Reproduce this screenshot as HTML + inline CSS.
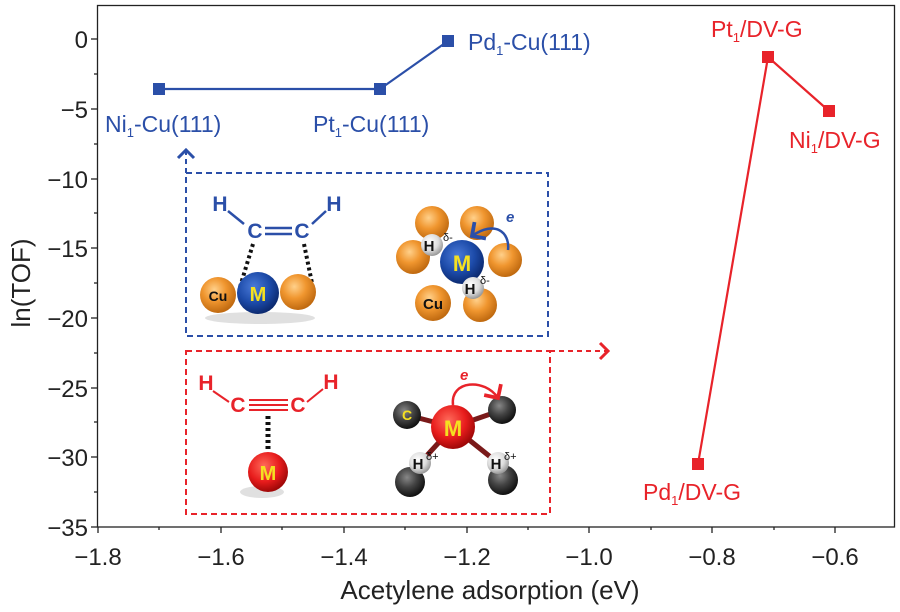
<!DOCTYPE html>
<html><head><meta charset="utf-8"><style>
html,body{margin:0;padding:0;background:#fff;}
svg{display:block;font-family:"Liberation Sans",sans-serif;}
</style></head><body>
<svg width="900" height="612" viewBox="0 0 900 612" xmlns="http://www.w3.org/2000/svg">
<defs>
<radialGradient id="gO" cx="40%" cy="35%" r="65%"><stop offset="0" stop-color="#ffd08a"/><stop offset="0.5" stop-color="#f0962f"/><stop offset="1" stop-color="#c06a10"/></radialGradient>
<radialGradient id="gB" cx="40%" cy="35%" r="65%"><stop offset="0" stop-color="#4a7ad8"/><stop offset="0.6" stop-color="#1c4aa8"/><stop offset="1" stop-color="#0c2a70"/></radialGradient>
<radialGradient id="gR" cx="40%" cy="35%" r="65%"><stop offset="0" stop-color="#ff6a5a"/><stop offset="0.6" stop-color="#e81c1c"/><stop offset="1" stop-color="#a00808"/></radialGradient>
<radialGradient id="gW" cx="40%" cy="35%" r="65%"><stop offset="0" stop-color="#ffffff"/><stop offset="0.6" stop-color="#ddd"/><stop offset="1" stop-color="#999"/></radialGradient>
<radialGradient id="gK" cx="40%" cy="35%" r="65%"><stop offset="0" stop-color="#888"/><stop offset="0.5" stop-color="#444"/><stop offset="1" stop-color="#111"/></radialGradient>
<marker id="aB" markerWidth="10" markerHeight="10" refX="5" refY="5" orient="auto"><path d="M1,1 L5,5 L1,9" fill="none" stroke="#2b4fa8" stroke-width="1.5"/></marker>
<marker id="aR" markerWidth="10" markerHeight="10" refX="5" refY="5" orient="auto"><path d="M1,1 L5,5 L1,9" fill="none" stroke="#e8232a" stroke-width="1.5"/></marker>
</defs>
<rect x="97.5" y="5.5" width="797" height="521.5" fill="none" stroke="#222" stroke-width="1.3"/>
<g stroke="#222" stroke-width="1.3">
<line x1="91" y1="39" x2="97" y2="39"/><line x1="91" y1="109" x2="97" y2="109"/><line x1="91" y1="179" x2="97" y2="179"/><line x1="91" y1="248" x2="97" y2="248"/><line x1="91" y1="318" x2="97" y2="318"/><line x1="91" y1="388" x2="97" y2="388"/><line x1="91" y1="457" x2="97" y2="457"/><line x1="91" y1="527" x2="97" y2="527"/>
<line x1="94" y1="74" x2="97" y2="74"/><line x1="94" y1="144" x2="97" y2="144"/><line x1="94" y1="213" x2="97" y2="213"/><line x1="94" y1="283" x2="97" y2="283"/><line x1="94" y1="353" x2="97" y2="353"/><line x1="94" y1="422" x2="97" y2="422"/><line x1="94" y1="492" x2="97" y2="492"/>
<line x1="98" y1="527" x2="98" y2="533"/><line x1="221" y1="527" x2="221" y2="533"/><line x1="344" y1="527" x2="344" y2="533"/><line x1="467" y1="527" x2="467" y2="533"/><line x1="589" y1="527" x2="589" y2="533"/><line x1="712" y1="527" x2="712" y2="533"/><line x1="835" y1="527" x2="835" y2="533"/>
<line x1="159" y1="527" x2="159" y2="530"/><line x1="282" y1="527" x2="282" y2="530"/><line x1="405" y1="527" x2="405" y2="530"/><line x1="528" y1="527" x2="528" y2="530"/><line x1="651" y1="527" x2="651" y2="530"/><line x1="774" y1="527" x2="774" y2="530"/>
</g>
<g font-size="24" fill="#222" text-anchor="end">
<text x="88" y="48">0</text><text x="88" y="118">−5</text><text x="88" y="188">−10</text><text x="88" y="257">−15</text><text x="88" y="327">−20</text><text x="88" y="397">−25</text><text x="88" y="466">−30</text><text x="88" y="536">−35</text>
</g>
<g font-size="24" fill="#222" text-anchor="middle">
<text x="98" y="565">−1.8</text><text x="221" y="565">−1.6</text><text x="344" y="565">−1.4</text><text x="467" y="565">−1.2</text><text x="589" y="565">−1.0</text><text x="712" y="565">−0.8</text><text x="835" y="565">−0.6</text>
</g>
<text x="490" y="599" font-size="26" fill="#222" text-anchor="middle">Acetylene adsorption (eV)</text>
<text transform="translate(30,283) rotate(-90)" font-size="26" fill="#222" text-anchor="middle">ln(TOF)</text>

<polyline points="159,89 380,89 448,41" fill="none" stroke="#2b4fa8" stroke-width="2.2"/>
<rect x="153" y="83" width="12" height="12" fill="#2b4fa8"/><rect x="374" y="83" width="12" height="12" fill="#2b4fa8"/><rect x="442" y="35" width="12" height="12" fill="#2b4fa8"/>
<g fill="#2b4fa8" font-size="23">
<text x="105" y="132">Ni<tspan font-size="13" dy="5">1</tspan><tspan dy="-5">-Cu(111)</tspan></text>
<text x="313" y="132">Pt<tspan font-size="13" dy="5">1</tspan><tspan dy="-5">-Cu(111)</tspan></text>
<text x="468" y="50">Pd<tspan font-size="13" dy="5">1</tspan><tspan dy="-5">-Cu(111)</tspan></text>
</g>
<polyline points="698,464 768,57 829,111" fill="none" stroke="#e8232a" stroke-width="2.2"/>
<rect x="692" y="458" width="12" height="12" fill="#e8232a"/><rect x="762" y="51" width="12" height="12" fill="#e8232a"/><rect x="823" y="105" width="12" height="12" fill="#e8232a"/>
<g fill="#e8232a" font-size="23">
<text x="711" y="37">Pt<tspan font-size="13" dy="5">1</tspan><tspan dy="-5">/DV-G</tspan></text>
<text x="789" y="148">Ni<tspan font-size="13" dy="5">1</tspan><tspan dy="-5">/DV-G</tspan></text>
<text x="643" y="500">Pd<tspan font-size="13" dy="5">1</tspan><tspan dy="-5">/DV-G</tspan></text>
</g>

<rect x="186" y="173" width="362" height="163" fill="none" stroke="#2b4fa8" stroke-width="2" stroke-dasharray="6,4"/>
<line x1="186" y1="173" x2="186" y2="150" stroke="#2b4fa8" stroke-width="2" stroke-dasharray="5,4" marker-end="url(#aB)"/>
<rect x="186" y="351" width="364" height="163" fill="none" stroke="#e8232a" stroke-width="2" stroke-dasharray="6,4"/>
<line x1="550" y1="351" x2="608" y2="351" stroke="#e8232a" stroke-width="2" stroke-dasharray="5,4" marker-end="url(#aR)"/>

<g fill="#2b4fa8" font-size="21" font-weight="bold" text-anchor="middle">
<text x="220" y="211">H</text><text x="255" y="238">C</text><text x="302" y="238">C</text><text x="334" y="211">H</text>
</g>
<g stroke="#2b4fa8" stroke-width="2.5"><line x1="228" y1="211" x2="244" y2="224"/><line x1="326" y1="211" x2="312" y2="224"/><line x1="265" y1="228" x2="292" y2="228"/><line x1="265" y1="234" x2="292" y2="234"/></g>
<g stroke="#111" stroke-width="4" stroke-dasharray="3,3"><line x1="253" y1="244" x2="240" y2="287"/><line x1="304" y1="244" x2="313" y2="288"/></g>
<ellipse cx="260" cy="318" rx="55" ry="6" fill="#ccc" opacity="0.6"/>
<circle cx="218" cy="295" r="18" fill="url(#gO)"/><circle cx="298" cy="292" r="18" fill="url(#gO)"/><circle cx="258" cy="293" r="21" fill="url(#gB)"/>
<text x="218" y="301" font-size="14" font-weight="bold" text-anchor="middle" fill="#111">Cu</text>
<text x="258" y="301" font-size="20" font-weight="bold" text-anchor="middle" fill="#f5e020">M</text>
<g>
<circle cx="432" cy="223" r="17" fill="url(#gO)"/><circle cx="477" cy="223" r="17" fill="url(#gO)"/><circle cx="413" cy="257" r="17" fill="url(#gO)"/><circle cx="505" cy="260" r="17" fill="url(#gO)"/><circle cx="433" cy="303" r="18" fill="url(#gO)"/><circle cx="480" cy="305" r="17" fill="url(#gO)"/>
<circle cx="462" cy="262" r="22" fill="url(#gB)"/>
<circle cx="432" cy="245" r="11" fill="url(#gW)"/><circle cx="473" cy="288" r="11" fill="url(#gW)"/>
<text x="462" y="271" font-size="22" font-weight="bold" text-anchor="middle" fill="#f5e020">M</text>
<text x="433" y="309" font-size="15" font-weight="bold" text-anchor="middle" fill="#111">Cu</text>
<text x="429" y="251" font-size="15" font-weight="bold" text-anchor="middle" fill="#111">H</text><text x="443" y="241" font-size="11" fill="#111">δ-</text>
<text x="470" y="294" font-size="15" font-weight="bold" text-anchor="middle" fill="#111">H</text><text x="480" y="284" font-size="11" fill="#111">δ-</text>
<path d="M508,250 C510,232 495,220 472,236" fill="none" stroke="#2b4fa8" stroke-width="2.5" marker-end="url(#aB)"/>
<text x="506" y="222" font-size="15" font-style="italic" font-weight="bold" fill="#2b4fa8">e</text>
</g>

<g fill="#e8232a" font-size="21" font-weight="bold" text-anchor="middle">
<text x="206" y="390">H</text><text x="238" y="412">C</text><text x="298" y="412">C</text><text x="331" y="389">H</text>
</g>
<g stroke="#e8232a" stroke-width="2"><line x1="213" y1="391" x2="229" y2="402"/><line x1="323" y1="389" x2="307" y2="402"/><line x1="249" y1="400" x2="288" y2="400"/><line x1="249" y1="405" x2="288" y2="405"/><line x1="249" y1="410" x2="288" y2="410"/></g>
<line x1="268" y1="416" x2="268" y2="450" stroke="#111" stroke-width="5" stroke-dasharray="3,3"/>
<ellipse cx="262" cy="492" rx="22" ry="6" fill="#ccc" opacity="0.6"/>
<circle cx="268" cy="472" r="20" fill="url(#gR)"/>
<text x="268" y="480" font-size="20" font-weight="bold" text-anchor="middle" fill="#f5e020">M</text>
<g>
<g stroke="#7a1a1a" stroke-width="5"><line x1="453" y1="427" x2="407" y2="415"/><line x1="453" y1="427" x2="502" y2="410"/><line x1="453" y1="427" x2="420" y2="463"/><line x1="453" y1="427" x2="498" y2="463"/></g>
<circle cx="410" cy="482" r="15" fill="url(#gK)"/><circle cx="503" cy="480" r="15" fill="url(#gK)"/>
<circle cx="407" cy="415" r="14" fill="url(#gK)"/><circle cx="502" cy="410" r="14" fill="url(#gK)"/>
<circle cx="420" cy="463" r="11" fill="url(#gW)"/><circle cx="498" cy="463" r="11" fill="url(#gW)"/>
<circle cx="453" cy="427" r="22" fill="url(#gR)"/>
<text x="453" y="436" font-size="22" font-weight="bold" text-anchor="middle" fill="#f5e020">M</text>
<text x="407" y="420" font-size="14" font-weight="bold" text-anchor="middle" fill="#f5e020">C</text>
<text x="418" y="469" font-size="15" font-weight="bold" text-anchor="middle" fill="#111">H</text><text x="426" y="460" font-size="11" fill="#111">δ+</text>
<text x="496" y="469" font-size="15" font-weight="bold" text-anchor="middle" fill="#111">H</text><text x="504" y="460" font-size="11" fill="#111">δ+</text>
<path d="M453,405 C450,380 485,378 498,398" fill="none" stroke="#e8232a" stroke-width="2.5" marker-end="url(#aR)"/>
<text x="460" y="380" font-size="15" font-style="italic" font-weight="bold" fill="#e8232a">e</text>
</g>
</svg>
</body></html>
